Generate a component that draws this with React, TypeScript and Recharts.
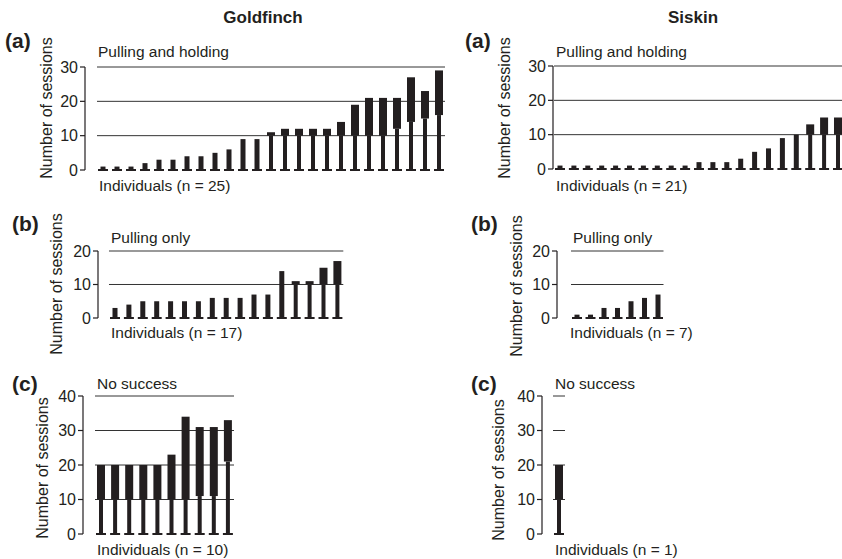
import React from "react";
import { BarChart, Bar, XAxis, YAxis, CartesianGrid } from "recharts";

// sessions per individual: hi = total, lo = where the thick part starts
const gfHoldHi = [1, 1, 1, 2, 3, 3, 4, 4, 5, 6, 9, 9, 11, 12, 12, 12, 12, 14, 19, 21, 21, 21, 27, 23, 29];
const gfHoldLo = [1, 1, 1, 2, 3, 3, 4, 4, 5, 6, 9, 9, 10, 10, 10, 10, 10, 10, 10, 10, 10, 12, 14, 15, 16];
const skHoldHi = [1, 1, 1, 1, 1, 1, 1, 1, 1, 1, 2, 2, 2, 3, 5, 6, 9, 10, 13, 15, 15];
const skHoldLo = [1, 1, 1, 1, 1, 1, 1, 1, 1, 1, 2, 2, 2, 3, 5, 6, 9, 10, 10, 10, 10];

const gfPullHi = [3, 4, 5, 5, 5, 5, 5, 6, 6, 6, 7, 7, 14, 11, 11, 15, 17];
const gfPullLo = [3, 4, 5, 5, 5, 5, 5, 6, 6, 6, 7, 7, 14, 10, 10, 10, 10];
const skPullHi = [1, 1, 3, 3, 5, 6, 7];
const skPullLo = [1, 1, 3, 3, 5, 6, 7];

const gfNoneHi = [20, 20, 20, 20, 20, 23, 34, 31, 31, 33];
const gfNoneLo = [10, 10, 10, 10, 10, 10, 10, 11, 11, 21];
const skNoneHi = [20];
const skNoneLo = [10];

const ticks30 = [0, 10, 20, 30];
const ticks20 = [0, 10, 20];
const ticks40 = [0, 10, 20, 30, 40];

const FONT = '"Liberation Sans", Arial, sans-serif';
const INK = "#231f20";
const AXIS_W = 34;

const StemBar = (props: any) => {
  const { x, y, width, height, payload } = props;
  const cx = x + width / 2;
  const base = y + height;
  const { hi, lo } = payload;
  const foot = <rect x={cx - 5} y={base - 1} width={10} height={2} fill={INK} />;
  if (lo >= hi) {
    return (
      <g>
        <rect x={cx - 2.5} y={y} width={5} height={height} fill={INK} />
        {foot}
      </g>
    );
  }
  const yLo = y + (height * (hi - lo)) / hi;
  return (
    <g>
      <rect x={cx - 2} y={yLo} width={4} height={base - yLo} fill={INK} />
      <rect x={x} y={y} width={width} height={yLo - y} fill={INK} />
      {foot}
    </g>
  );
};

type PanelProps = {
  hi: number[];
  lo: number[];
  ticks: number[];
  axisX: number;
  yTop: number;
  y0: number;
  gap: number;
  band: number;
};

function Panel({ hi, lo, ticks, axisX, yTop, y0, gap, band }: PanelProps) {
  const data = hi.map((v, i) => ({ id: i + 1, hi: v, lo: lo[i] }));
  const max = ticks[ticks.length - 1];
  const w = AXIS_W + gap + hi.length * band + 4;
  const h = 12 + (y0 - yTop) + 12;
  return (
    <div style={{ position: "absolute", left: axisX - AXIS_W, top: yTop - 12 }}>
      <BarChart width={w} height={h} data={data} margin={{ top: 12, right: 4, bottom: 12, left: 0 }}>
        <CartesianGrid
          vertical={false}
          horizontalValues={ticks.slice(1)}
          x={AXIS_W + gap + 1}
          width={hi.length * band - 2}
          stroke="#333"
          strokeWidth={1}
        />
        <XAxis dataKey="id" hide padding={{ left: gap, right: 0 }} />
        <YAxis
          type="number"
          domain={[0, max]}
          ticks={ticks}
          interval={0}
          width={AXIS_W}
          tickSize={5}
          tickMargin={2}
          axisLine={{ stroke: INK, strokeWidth: 1.2 }}
          tickLine={{ stroke: INK, strokeWidth: 1.2 }}
          tick={{ fontSize: 16, fill: INK, fontFamily: FONT }}
        />
        <Bar dataKey="hi" barSize={8} shape={StemBar} isAnimationActive={false} />
      </BarChart>
    </div>
  );
}

const Txt = ({ x, y, size = 15.5, bold = false, center = false, children }: any) => (
  <div
    style={{
      position: "absolute",
      left: x,
      top: y,
      fontSize: size,
      lineHeight: 1,
      fontWeight: bold ? 700 : 400,
      whiteSpace: "nowrap",
      color: INK,
      transform: center ? "translateX(-50%)" : undefined,
    }}
  >
    {children}
  </div>
);

const YLabel = ({ x, y }: { x: number; y: number }) => (
  <div
    style={{
      position: "absolute",
      left: x,
      top: y,
      fontSize: 16,
      lineHeight: 1,
      whiteSpace: "nowrap",
      color: INK,
      transform: "translate(-50%, -50%) rotate(-90deg)",
    }}
  >
    Number of sessions
  </div>
);

export default function App() {
  return (
    <div
      style={{
        position: "fixed",
        left: 0,
        top: 0,
        width: 842,
        height: 559,
        overflow: "hidden",
        background: "#fff",
        fontFamily: FONT,
      }}
    >
      <Txt x={263} y={9} size={17} bold center>Goldfinch</Txt>
      <Txt x={693} y={9} size={17} bold center>Siskin</Txt>

      {/* (a) pulling and holding */}
      <Txt x={5} y={30} size={21} bold>(a)</Txt>
      <Txt x={465} y={30} size={21} bold>(a)</Txt>
      <Txt x={98} y={44}>Pulling and holding</Txt>
      <Txt x={556} y={44}>Pulling and holding</Txt>
      <Txt x={99} y={178}>Individuals (n = 25)</Txt>
      <Txt x={556} y={178}>Individuals (n = 21)</Txt>
      <YLabel x={47} y={108} />
      <YLabel x={505} y={108} />
      <Panel hi={gfHoldHi} lo={gfHoldLo} ticks={ticks30} axisX={85} yTop={67} y0={170} gap={11} band={14} />
      <Panel hi={skHoldHi} lo={skHoldLo} ticks={ticks30} axisX={553} yTop={66} y0={169} gap={0} band={13.9} />

      {/* (b) pulling only */}
      <Txt x={12} y={213} size={21} bold>(b)</Txt>
      <Txt x={471} y={213} size={21} bold>(b)</Txt>
      <Txt x={111} y={230}>Pulling only</Txt>
      <Txt x={573} y={230}>Pulling only</Txt>
      <Txt x={111} y={325}>Individuals (n = 17)</Txt>
      <Txt x={570} y={325}>Individuals (n = 7)</Txt>
      <YLabel x={57} y={284} />
      <YLabel x={517} y={286} />
      <Panel hi={gfPullHi} lo={gfPullLo} ticks={ticks20} axisX={98} yTop={251} y0={318} gap={10} band={13.9} />
      <Panel hi={skPullHi} lo={skPullLo} ticks={ticks20} axisX={557} yTop={251} y0={318} gap={13} band={13.5} />

      {/* (c) no success */}
      <Txt x={12} y={373} size={21} bold>(c)</Txt>
      <Txt x={471} y={373} size={21} bold>(c)</Txt>
      <Txt x={97} y={376}>No success</Txt>
      <Txt x={555} y={376}>No success</Txt>
      <Txt x={97} y={542}>Individuals (n = 10)</Txt>
      <Txt x={555} y={542}>Individuals (n = 1)</Txt>
      <YLabel x={43} y={468} />
      <YLabel x={499} y={470} />
      <Panel hi={gfNoneHi} lo={gfNoneLo} ticks={ticks40} axisX={83} yTop={396} y0={534} gap={11} band={14.1} />
      <Panel hi={skNoneHi} lo={skNoneLo} ticks={ticks40} axisX={542} yTop={396} y0={534} gap={10} band={14} />
    </div>
  );
}
